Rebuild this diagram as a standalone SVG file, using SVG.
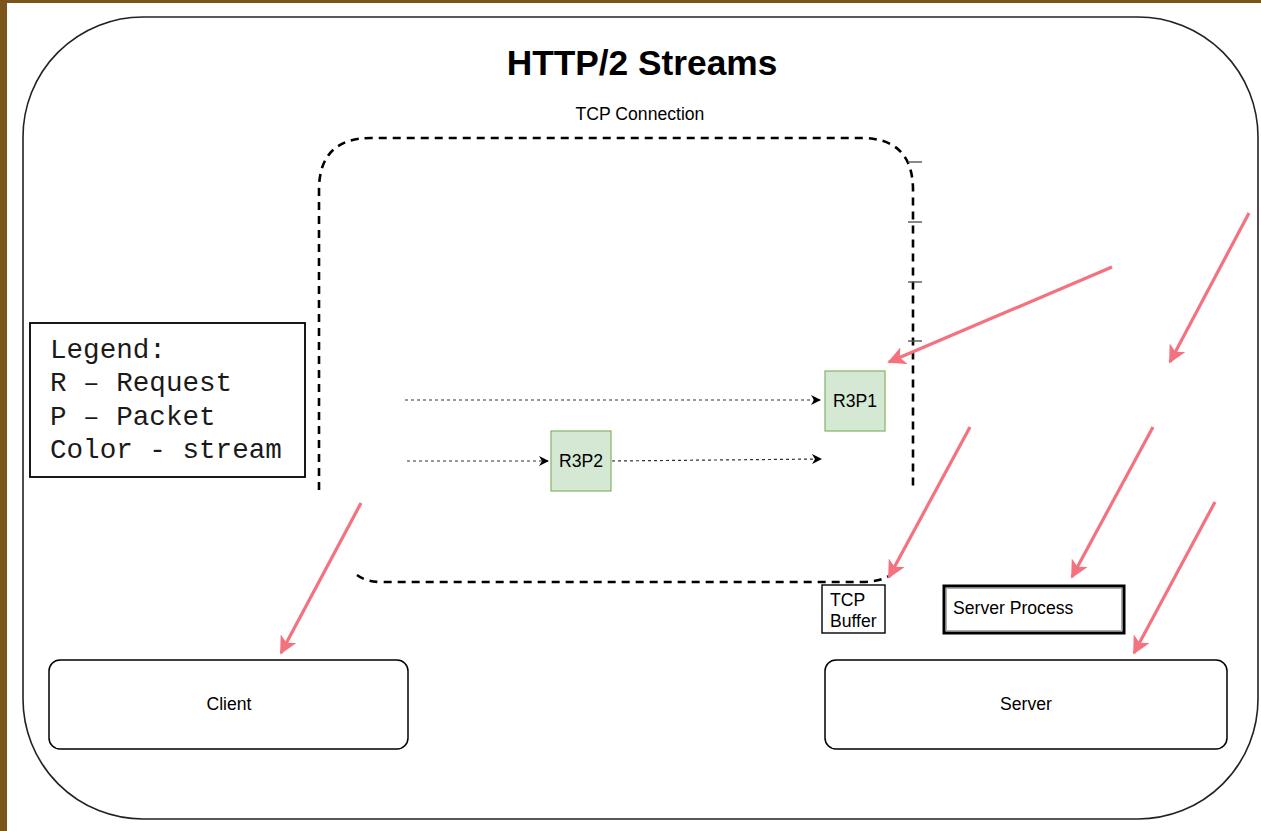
<svg xmlns="http://www.w3.org/2000/svg" width="1261" height="831" viewBox="0 0 1261 831">
  <defs>
    <style>
      .sans { font-family: "Liberation Sans", Arial, sans-serif; fill: #000; }
      .label { font-size: 17.6px; }
      .mono { font-family: "Liberation Mono", "Courier New", monospace; fill: #1a1a1a; font-size: 27.6px; }
      .box { fill: #fff; stroke: #000; }
      .packet { fill: #d5e8d4; stroke: #82b366; stroke-width: 1.2; }
      .flow { fill: none; stroke: #333; stroke-width: 1.2; stroke-dasharray: 3 3; }
      .pointer { fill: none; stroke: #f4727f; stroke-width: 3.2; }
      .conn { fill: none; stroke: #000; stroke-width: 2.6; stroke-dasharray: 8 6; }
      .tick { stroke: #555; stroke-width: 1.4; }
    </style>
    <marker id="flowHead" viewBox="0 0 10 10" refX="9" refY="5" markerWidth="10" markerHeight="10" markerUnits="userSpaceOnUse" orient="auto">
      <path d="M0,0 L10,5 L0,10 L3,5 Z" fill="#000"/>
    </marker>
    <marker id="pointerHead" viewBox="0 0 10 10" refX="9" refY="5" markerWidth="18" markerHeight="18" markerUnits="userSpaceOnUse" orient="auto">
      <path d="M0,0 L10,5 L0,10 L2.5,5 Z" fill="#f4727f"/>
    </marker>
  </defs>

  <!-- page backdrop -->
  <rect x="0" y="0" width="1261" height="831" fill="#7a5418"/>
  <rect x="7" y="3" width="1254" height="828" fill="#fff"/>

  <!-- outer frame -->
  <g id="frame">
    <rect x="23" y="17" width="1235" height="802" rx="120" ry="120" fill="#fff" stroke="#222" stroke-width="1.6"/>
  </g>

  <g id="title">
    <text class="sans" x="642" y="75" font-size="35.3" font-weight="bold" text-anchor="middle">HTTP/2 Streams</text>
  </g>

  <!-- TCP connection outline -->
  <g id="tcp-connection">
    <text class="sans label" x="640" y="120" text-anchor="middle" fill="#222">TCP Connection</text>
    <path class="conn" d="M319,490 V190 Q319,138 371,138 H861 Q913,138 913,190 V490"/>
    <path class="conn" d="M357,575 Q366,582 382,582 H862 Q879,582 891,575"/>
    <line class="tick" x1="908" y1="162" x2="922" y2="162"/>
    <line class="tick" x1="908" y1="222" x2="922" y2="222"/>
    <line class="tick" x1="908" y1="282" x2="922" y2="282"/>
    <line class="tick" x1="908" y1="341" x2="922" y2="341"/>
  </g>

  <g id="legend">
    <rect class="box" x="30" y="323" width="275" height="154" stroke-width="1.8"/>
    <text class="mono" x="50" y="358">Legend:</text>
    <text class="mono" x="50" y="391">R – Request</text>
    <text class="mono" x="50" y="425">P – Packet</text>
    <text class="mono" x="50" y="458">Color - stream</text>
  </g>

  <g id="r3p1">
    <rect class="packet" x="825" y="371" width="60" height="60"/>
    <text class="sans label" x="855" y="407" text-anchor="middle" fill="#222">R3P1</text>
  </g>

  <g id="r3p2">
    <rect class="packet" x="551" y="431" width="60" height="60"/>
    <text class="sans label" x="581" y="467" text-anchor="middle" fill="#222">R3P2</text>
  </g>

  <g id="tcp-buffer">
    <rect class="box" x="822" y="585" width="63" height="48" stroke-width="1.4"/>
    <text class="sans label" x="830" y="606">TCP</text>
    <text class="sans label" x="830" y="627">Buffer</text>
  </g>

  <g id="server-process">
    <rect class="box" x="944" y="586" width="180" height="47" stroke-width="3"/>
    <rect x="946.5" y="588.5" width="175" height="42" fill="none" stroke="#999" stroke-width="0.8"/>
    <text class="sans label" x="953" y="614">Server Process</text>
  </g>

  <g id="client">
    <rect class="box" x="49" y="660" width="359" height="89" rx="11" ry="11" stroke-width="1.5" stroke="#333"/>
    <text class="sans label" x="229" y="710" text-anchor="middle">Client</text>
  </g>

  <g id="server">
    <rect class="box" x="825" y="660" width="402" height="89" rx="11" ry="11" stroke-width="1.5" stroke="#333"/>
    <text class="sans label" x="1026" y="710" text-anchor="middle">Server</text>
  </g>

  <!-- connectors -->
  <g id="connectors">
    <line class="flow" x1="405" y1="400" x2="820" y2="400" marker-end="url(#flowHead)"/>
    <line class="flow" x1="407" y1="461" x2="548" y2="461" marker-end="url(#flowHead)"/>
    <line class="flow" x1="612" y1="461" x2="821" y2="459" marker-end="url(#flowHead)"/>

    <line class="pointer" x1="1112" y1="267" x2="889" y2="362" marker-end="url(#pointerHead)"/>
    <line class="pointer" x1="1249" y1="213" x2="1170" y2="362" marker-end="url(#pointerHead)"/>
    <line class="pointer" x1="970" y1="427" x2="889" y2="577" marker-end="url(#pointerHead)"/>
    <line class="pointer" x1="1153" y1="427" x2="1072" y2="577" marker-end="url(#pointerHead)"/>
    <line class="pointer" x1="1215" y1="502" x2="1134" y2="653" marker-end="url(#pointerHead)"/>
    <line class="pointer" x1="361" y1="503" x2="281" y2="653" marker-end="url(#pointerHead)"/>
  </g>
</svg>
